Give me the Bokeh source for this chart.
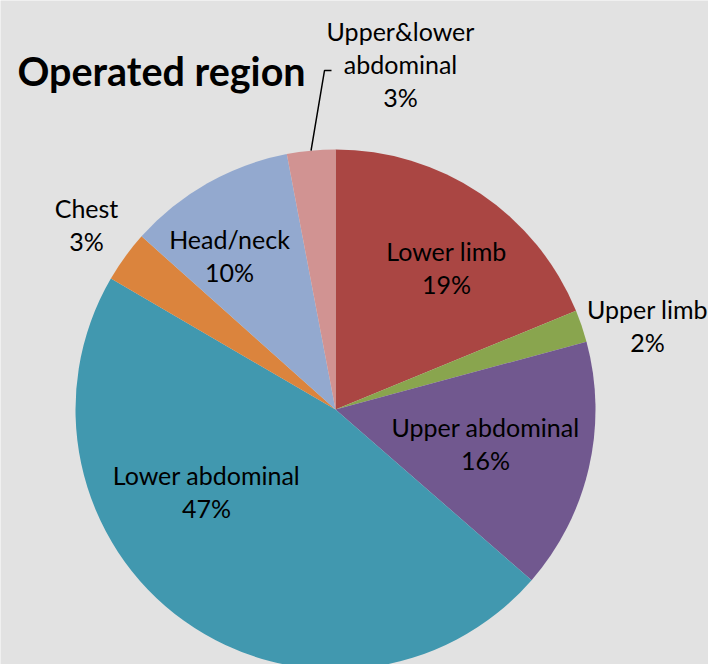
import math
from bokeh.plotting import figure
from bokeh.models import Range1d, ColumnDataSource
from bokeh.core.properties import value
from bokeh.embed import file_html
from bokeh.resources import INLINE

# ---- data ----
categories = ["Lower limb", "Upper limb", "Upper abdominal", "Lower abdominal",
              "Chest", "Head/neck", "Upper&lower\nabdominal"]
percents = [18.8, 2.0, 15.6, 47.0, 3.2, 10.4, 3.0]
colors = ["#AA4643", "#89A54E", "#71588F", "#4198AF", "#DB843D", "#93A9CF", "#D19392"]
title_text = "Operated region"

# ---- layout (pixel-like data coords, origin bottom-left) ----
W, H = 708, 664
cx, cy, R = 335, 255, 260
label_xy = [(446, 397), (647, 339), (485, 221), (206, 173),
            (86, 440), (229, 409), (400, 601)]
FONT = "Lato"

p = figure(width=W, height=H, x_range=Range1d(0, W), y_range=Range1d(0, H),
           output_backend="svg", toolbar_location=None, min_border=0)
p.axis.visible = False
p.grid.visible = False
p.outline_line_color = None
p.background_fill_color = "#e2e2e2"
p.border_fill_color = "#e2e2e2"

total = sum(percents)
starts, ends = [], []
c = 0.0
for v in percents:
    starts.append(math.pi / 2 - 2 * math.pi * c / total)
    c += v
    ends.append(math.pi / 2 - 2 * math.pi * c / total)

src = ColumnDataSource(dict(start=starts, end=ends, color=colors))
p.wedge(x=cx, y=cy, radius=R, start_angle="start", end_angle="end",
        direction="clock", fill_color="color", line_color=None, source=src)

labels = [f"{n}\n{round(v)}%" for n, v in zip(categories, percents)]
lsrc = ColumnDataSource(dict(x=[a for a, b in label_xy], y=[b for a, b in label_xy], t=labels))
p.text(x="x", y="y", text="t", source=lsrc, text_align="center", text_baseline="middle",
       text_font=value(FONT), text_font_size="25px", text_color="#000000",
       text_line_height=1.1)

# leader line for the last (small) slice
mid = (starts[-1] + ends[-1]) / 2
x0, y0 = cx + R * math.cos(mid), cy + R * math.sin(mid)
p.line(x=[x0, 324, 331], y=[y0, 594, 594], line_color="black", line_width=1.5)

p.text(x=[17], y=[594], text=[title_text], text_align="left", text_baseline="middle",
       text_font=value(FONT), text_font_size="39.5px", text_font_style="bold",
       text_color="#000000")

open("out.html", "w").write(file_html(p, INLINE))
